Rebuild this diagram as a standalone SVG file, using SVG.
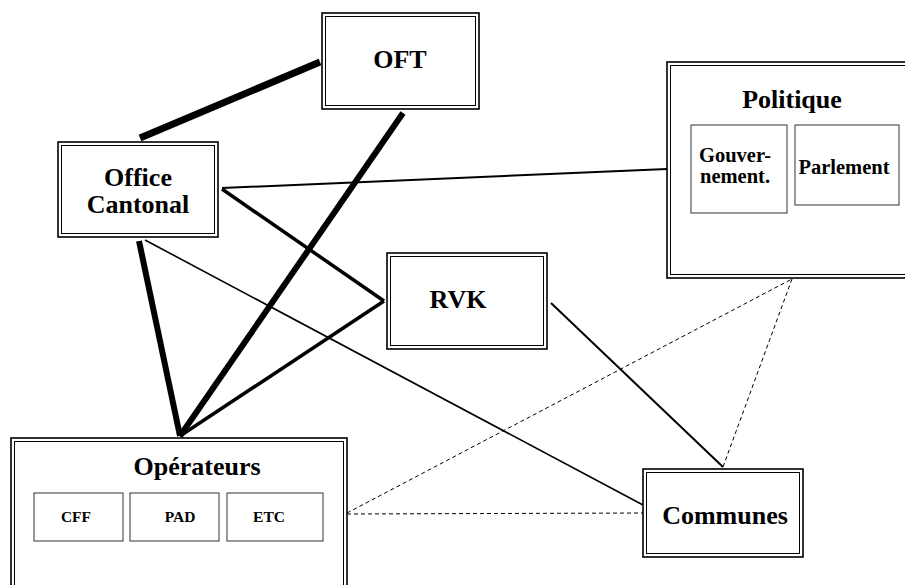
<svg xmlns="http://www.w3.org/2000/svg" width="905" height="585" viewBox="0 0 905 585">
<style>
.o{fill:none;stroke:#000;stroke-width:1.6}
.i{fill:none;stroke:#000;stroke-width:1}
.s{fill:#fff;stroke:#333;stroke-width:1}
.t{font-family:"Liberation Serif","Times New Roman",serif;font-weight:bold;fill:#000;text-anchor:middle}
.big{font-size:26px}
.mid{font-size:20.5px}
.sm{font-size:15.5px}
.c{stroke:#000;fill:none;stroke-linecap:butt}
.d{stroke:#000;stroke-width:1;stroke-dasharray:4 3;fill:none}
</style>
<rect width="905" height="585" fill="#fff"/>
<g id="connectors">
<line class="c" x1="140" y1="138" x2="320" y2="62" stroke-width="7"/>
<line class="c" x1="403" y1="113" x2="180" y2="436" stroke-width="6"/>
<line class="c" x1="139" y1="241" x2="180" y2="436" stroke-width="6"/>
<line class="c" x1="222" y1="189" x2="384" y2="301" stroke-width="3.5"/>
<line class="c" x1="384" y1="301" x2="180" y2="436" stroke-width="3.5"/>
<line class="c" x1="222" y1="188" x2="667" y2="169" stroke-width="2"/>
<line class="c" x1="145" y1="240" x2="643" y2="505" stroke-width="1.6"/>
<line class="c" x1="551" y1="303" x2="723" y2="467" stroke-width="2"/>
<line class="d" x1="347" y1="513" x2="792" y2="279"/>
<line class="d" x1="792" y1="279" x2="723" y2="467"/>
<line class="d" x1="347" y1="514" x2="643" y2="513" stroke="#555"/>
</g>
<g id="oft">
<rect class="o" x="322" y="13" width="157" height="96" fill="#fff"/>
<rect class="i" x="325.5" y="16.5" width="150" height="89"/>
<text class="t big" x="400" y="68">OFT</text>
</g>
<g id="office-cantonal">
<rect class="o" x="58" y="142" width="160" height="95" fill="#fff"/>
<rect class="i" x="61.5" y="145.5" width="153" height="88"/>
<text class="t big" x="138" y="186">Office</text>
<text class="t big" x="138" y="213">Cantonal</text>
</g>
<g id="politique">
<rect class="o" x="667" y="62" width="250" height="216" fill="#fff"/>
<rect class="i" x="670.5" y="65.5" width="243" height="209"/>
<text class="t big" x="792" y="108">Politique</text>
<g id="gouvernement">
<rect class="s" x="691" y="125" width="96" height="88"/>
<text class="t mid" x="735" y="162">Gouver-</text>
<text class="t mid" x="735" y="183">nement.</text>
</g>
<g id="parlement">
<rect class="s" x="795" y="125" width="104" height="80"/>
<text class="t mid" x="844" y="174">Parlement</text>
</g>
</g>
<g id="rvk">
<rect class="o" x="387" y="253" width="160" height="96" fill="#fff"/>
<rect class="i" x="390.5" y="256.5" width="153" height="89"/>
<text class="t big" x="458" y="308">RVK</text>
</g>
<g id="operateurs">
<rect class="o" x="11" y="438" width="336" height="160" fill="#fff"/>
<rect class="i" x="14.5" y="441.5" width="329" height="153"/>
<text class="t big" x="197" y="475">Opérateurs</text>
<g id="cff">
<rect class="s" x="34" y="493" width="89" height="48"/>
<text class="t sm" x="76" y="522">CFF</text>
</g>
<g id="pad">
<rect class="s" x="130" y="493" width="89" height="48"/>
<text class="t sm" x="180" y="522">PAD</text>
</g>
<g id="etc">
<rect class="s" x="227" y="493" width="96" height="48"/>
<text class="t sm" x="269" y="522">ETC</text>
</g>
</g>
<g id="communes">
<rect class="o" x="643" y="469" width="160" height="88" fill="#fff"/>
<rect class="i" x="646.5" y="472.5" width="153" height="81"/>
<text class="t big" x="725" y="524">Communes</text>
</g>
</svg>
